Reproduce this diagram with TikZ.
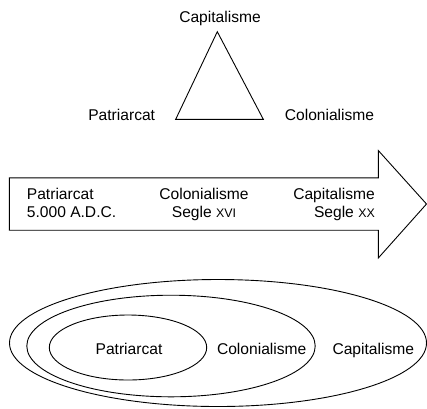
\documentclass[tikz,border=0pt]{standalone}
\usepackage{fontspec}
\setmainfont{Liberation Sans}
\begin{document}
\begin{tikzpicture}[x=1pt,y=-1pt,
  lbl/.style={inner sep=0pt,font=\fontsize{15.6}{18}\selectfont,text height=11.2pt,text depth=3.2pt},
  shape line/.style={draw=black,line width=0.9pt,line join=miter}]
\useasboundingbox (0,0) rectangle (427,408);
% triangle
\coordinate (tA) at (217.3,31.7);
\coordinate (tB) at (175.7,119.3);
\coordinate (tC) at (263.3,119.3);
\draw[shape line] (tA) -- (tB) -- (tC) -- cycle;
\node[lbl] (tcap) at (220,18) {Capitalisme};
\node[lbl] (tpat) at (121.7,116.7) {Patriarcat};
\node[lbl] (tcol) at (329.5,116.7) {Colonialisme};
% arrow
\coordinate (a1) at (9.3,177.8);
\coordinate (a2) at (378.3,177.8);
\coordinate (a3) at (378.3,150.5);
\coordinate (a4) at (426.5,204);
\coordinate (a5) at (378.3,258);
\coordinate (a6) at (378.3,230.2);
\coordinate (a7) at (9.3,230.2);
\draw[shape line] (a1) -- (a2) -- (a3) -- (a4) -- (a5) -- (a6) -- (a7) -- cycle;
\node[lbl,anchor=west] (p1) at (26.7,195.5) {Patriarcat};
\node[lbl,anchor=west] (p2) at (26.7,213.8) {5.000 A.D.C.};
\node[lbl] (c1) at (204,195.5) {Colonialisme};
\node[lbl] (c2) at (204,213.8) {Segle {\fontsize{12.4}{14}\selectfont XVI}};
\node[lbl,anchor=east] (k1) at (375,195.5) {Capitalisme};
\node[lbl,anchor=east] (k2) at (375,213.8) {Segle {\fontsize{12.4}{14}\selectfont XX}};
% ellipses
\draw[shape line] (218,343) ellipse [x radius=208.5, y radius=63.5];
\draw[shape line] (171,346) ellipse [x radius=144.2, y radius=50.8];
\draw[shape line] (128,347.5) ellipse [x radius=78.7, y radius=32.5];
\node[lbl] (ep) at (129,350) {Patriarcat};
\node[lbl] (ec) at (261.7,350) {Colonialisme};
\node[lbl] (ek) at (373.3,350) {Capitalisme};
\end{tikzpicture}
\end{document}
